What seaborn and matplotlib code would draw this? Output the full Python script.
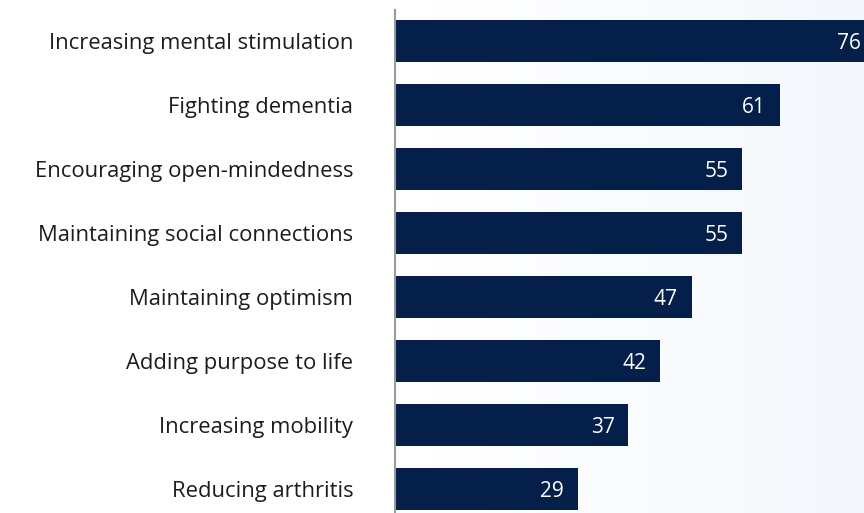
import numpy as np
import pandas as pd
import matplotlib
matplotlib.use("Agg")
import matplotlib.pyplot as plt
import seaborn as sns
from matplotlib.colors import LinearSegmentedColormap

categories = ["Increasing mental stimulation", "Fighting dementia", "Encouraging open-mindedness",
              "Maintaining social connections", "Maintaining optimism", "Adding purpose to life",
              "Increasing mobility", "Reducing arthritis"]
values = [76, 61, 55, 55, 47, 42, 37, 29]

df = pd.DataFrame({"cat": categories, "val": values})

sns.set_theme(style="white")
plt.rcParams['font.family'] = ['Open Sans', 'DejaVu Sans']

W, H = 864, 513
fig = plt.figure(figsize=(W/100, H/100), dpi=100)

# background gradient
bg = fig.add_axes([0, 0, 1, 1], zorder=-10)
grad = np.linspace(0, 1, 256)[None, :]
cmap = LinearSegmentedColormap.from_list("bg", ["#ffffff", "#ffffff", "#f4f7fc"])
bg.imshow(grad, aspect="auto", cmap=cmap, extent=[0, 1, 0, 1])
bg.set_axis_off()

left = 395 / W
right_px = 395 + 80 * 6.31
ax = fig.add_axes([left, 0, (right_px - 395) / W, (H - 10) / H])
ax.patch.set_alpha(0)
sns.barplot(data=df, x="val", y="cat", orient="h", color="#04204a", width=0.656,
            saturation=1, linewidth=0, ax=ax)
ax.set_xlim(0, 80)
ax.set_ylim(7.375, -0.484)
ax.set_xlabel("")
ax.set_ylabel("")
ax.set_xticks([])
for s in ["top", "right", "bottom"]:
    ax.spines[s].set_visible(False)
ax.spines["left"].set_color("#9a9a9a")
ax.spines["left"].set_linewidth(1.5)
ax.tick_params(axis="y", length=0, pad=30, labelsize=15.8, labelcolor="#1c1c1c")

for c in ax.containers:
    texts = ax.bar_label(c, labels=[str(v) for v in values], padding=-10, label_type="edge",
                         color="white", fontsize=15)
    for t in texts:
        t.set_ha("right")
        t.set_va("center_baseline")

fig.savefig("out.png", dpi=100)
